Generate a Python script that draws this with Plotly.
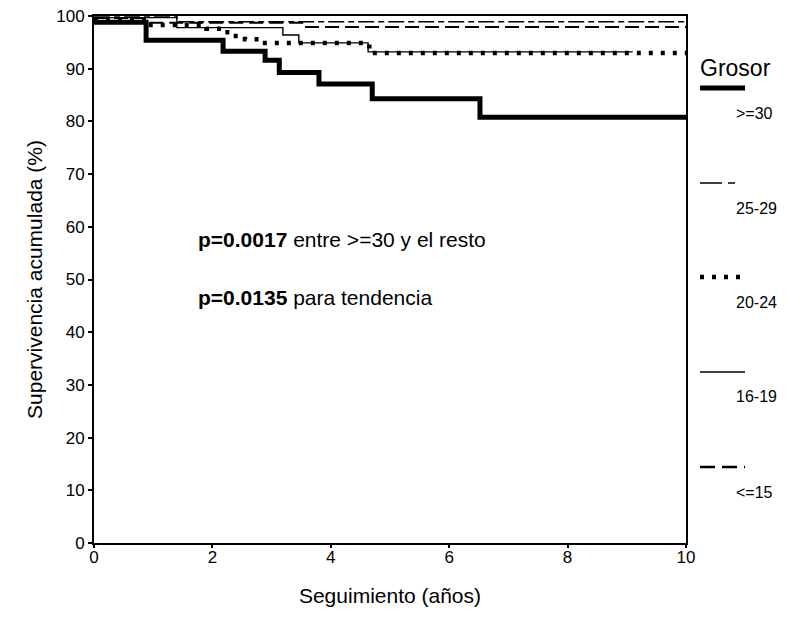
import plotly.graph_objects as go

# ---- data (Kaplan-Meier step curves, % survival vs years) ----
x_ge30 = [0, 0.88, 2.18, 2.89, 3.13, 3.80, 4.70, 6.52, 10]
y_ge30 = [98.8, 95.4, 93.3, 91.6, 89.3, 87.1, 84.3, 80.8, 80.8]

x_25_29 = [0, 1.40, 10]
y_25_29 = [100, 98.9, 98.9]

x_20_24 = [0, 0.90, 1.90, 2.15, 2.35, 2.55, 2.80, 4.65, 10]
y_20_24 = [99.3, 98.3, 97.6, 96.9, 96.2, 95.6, 94.9, 93.0, 93.0]

x_16_19 = [0, 1.40, 3.19, 3.46, 4.63, 9.10]
y_16_19 = [99.7, 97.8, 96.4, 94.9, 93.2, 93.2]

x_le15 = [0, 0.85, 3.55, 10]
y_le15 = [99.6, 98.7, 97.9, 97.9]

x_ticks = [0, 2, 4, 6, 8, 10]
y_ticks = [0, 10, 20, 30, 40, 50, 60, 70, 80, 90, 100]

legend_title = "Grosor"
labels = [">=30", "25-29", "20-24", "16-19", "<=15"]

FONT = "Liberation Sans, Arial, sans-serif"

fig = go.Figure()
styles = [
    dict(width=5, dash="solid"),
    dict(width=1.6, dash="16px,4px,6px,4px"),
    dict(width=4.5, dash="4px,8px"),
    dict(width=1.4, dash="solid"),
    dict(width=2, dash="14px,6px"),
]
series = [(x_ge30, y_ge30), (x_25_29, y_25_29), (x_20_24, y_20_24),
          (x_16_19, y_16_19), (x_le15, y_le15)]
for (xs, ys), st, lab in zip(series, styles, labels):
    fig.add_trace(go.Scatter(x=xs, y=ys, mode="lines", line_shape="hv",
                             line=dict(color="black", **st), name=lab,
                             showlegend=False))

# in-plot annotations
fig.add_annotation(x=1.72, y=57.5, xref="x", yref="y", xanchor="left",
                   text="<b>p=0.0017</b> entre >=30 y el resto", showarrow=False,
                   font=dict(size=21, color="black", family=FONT))
fig.add_annotation(x=1.72, y=46.5, xref="x", yref="y", xanchor="left",
                   text="<b>p=0.0135</b> para tendencia", showarrow=False,
                   font=dict(size=21, color="black", family=FONT))

# custom legend at the right
L, B, W, H = 94, 543, 592, 527
def px(x):
    return (x - L) / W
def py(y):
    return (B - y) / H

fig.add_annotation(x=px(698), y=py(68), xref="paper", yref="paper", xanchor="left",
                   yanchor="middle", text=legend_title, showarrow=False,
                   font=dict(size=23, color="black", family=FONT))
sample_y = [88, 183, 277, 372, 467]
label_y = [113, 208, 302, 397, 492]
sample_style = [
    dict(width=5, dash="solid"),
    dict(width=1.4, dash="22px,6px,7px,30px"),
    dict(width=4.5, dash="4px,8px"),
    dict(width=1.4, dash="solid"),
    dict(width=2.5, dash="15px,7px"),
]
for lab, sy, ly, st in zip(labels, sample_y, label_y, sample_style):
    fig.add_shape(type="line", xref="paper", yref="paper",
                  x0=px(700), x1=px(745), y0=py(sy), y1=py(sy),
                  line=dict(color="black", **st))
    fig.add_annotation(x=px(734), y=py(ly), xref="paper", yref="paper",
                       xanchor="left", yanchor="middle", text=lab, showarrow=False,
                       font=dict(size=16, color="black", family=FONT))

fig.update_layout(
    width=790, height=639,
    margin=dict(l=94, r=104, t=16, b=96, autoexpand=False),
    paper_bgcolor="white", plot_bgcolor="white",
    font=dict(family=FONT, color="black"),
    showlegend=False,
)
fig.update_xaxes(range=[0, 10], tickvals=x_ticks, ticks="outside", ticklen=3,
                 tickwidth=2, tickcolor="black", showline=True, linecolor="black",
                 linewidth=2, mirror=True, showgrid=False, zeroline=False,
                 automargin=False, ticklabelstandoff=-5,
                 tickfont=dict(size=17, family=FONT),
                 title=dict(text="Seguimiento (años)", font=dict(size=21, family=FONT),
                            standoff=22))
fig.update_yaxes(range=[0, 100], tickvals=y_ticks, ticks="outside", ticklen=4,
                 tickwidth=2, tickcolor="black", showline=True, linecolor="black",
                 linewidth=2, mirror=True, showgrid=False, zeroline=False,
                 automargin=False,
                 tickfont=dict(size=17, family=FONT),
                 title=dict(text="Supervivencia acumulada (%)",
                            font=dict(size=21, family=FONT), standoff=8))

fig.write_html("out.html")
